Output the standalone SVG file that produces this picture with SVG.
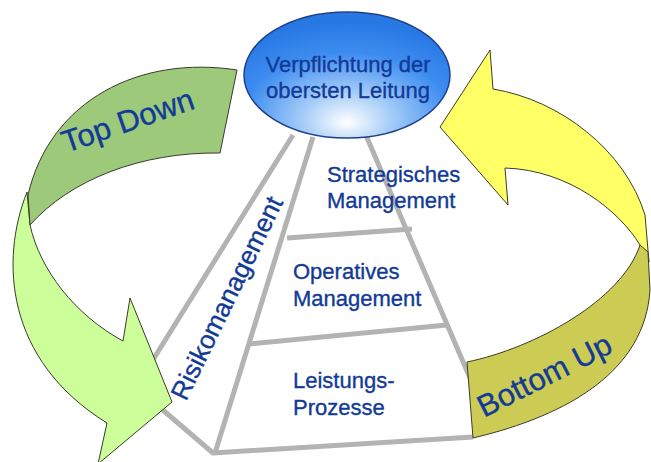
<svg xmlns="http://www.w3.org/2000/svg" width="651" height="462" viewBox="0 0 651 462">
<defs>
<radialGradient id="blueGrad" cx="0.5" cy="0.8" r="0.72" fx="0.5" fy="0.88">
<stop offset="0" stop-color="#ffffff"/>
<stop offset="0.3" stop-color="#a6cdf8"/>
<stop offset="0.7" stop-color="#3c8cf0"/>
<stop offset="1" stop-color="#2878e4"/>
</radialGradient>
<style>
.frame{stroke:#b3b3b3;stroke-width:5;fill:none;stroke-linejoin:round}
.arrow{stroke:#3a3a2a;stroke-width:1;stroke-linejoin:miter}
.lbl{font-family:"Liberation Sans",Arial,sans-serif;fill:#123a96;stroke:#123a96;stroke-width:0.35;font-size:22px}
.big{font-family:"Liberation Sans",Arial,sans-serif;fill:#123a96;stroke:#123a96;stroke-width:0.35;font-size:31px}
</style>
</defs>
<rect width="651" height="462" fill="#ffffff"/>
<g id="pyramid-frame">
<polyline class="frame" points="293,135 136,387 213,453 473,437"/>
<line class="frame" x1="313" y1="137" x2="215" y2="453"/>
<line class="frame" x1="365" y1="133" x2="470" y2="378"/>
<line class="frame" x1="287" y1="238" x2="412" y2="229"/>
<line class="frame" x1="249" y1="344" x2="447" y2="325"/>
</g>
<g id="connectors">
<g id="top-down-arrow">
<path class="arrow" fill="#ccff99" d="M27,192 C0,260 5,360 107,423 L98,464 L172,402 L130,298 L123,341 C75,315 40,270 30,225 Z"/>
<path class="arrow" fill="#9dc97b" d="M237,70 C140,55 50,100 28,195 L30,225 C70,180 140,152 220,153 Z"/>
</g>
<g id="bottom-up-arrow">
<path class="arrow" fill="#ffff66" d="M440,127 L490,50 L493,89 C560,100 625,150 645,215 L649,262 L640,245 C620,212 570,170 505,168 L508,205 Z"/>
<path class="arrow" fill="#cccc55" d="M640,245 C622,300 535,348 467,362 L473,438 C570,415 645,370 650,290 L648,252 Z"/>
</g>
</g>
<g id="node-leitung">
<ellipse cx="347" cy="75" rx="103" ry="63" fill="url(#blueGrad)" stroke="#1f3f8c" stroke-width="1.5"/>
<text class="lbl" x="348" y="72" text-anchor="middle">Verpflichtung der</text>
<text class="lbl" x="348" y="98" text-anchor="middle">obersten Leitung</text>
</g>
<g id="node-strategisch">
<text class="lbl" x="327" y="182">Strategisches</text>
<text class="lbl" x="327" y="208">Management</text>
</g>
<g id="node-operativ">
<text class="lbl" x="293" y="279">Operatives</text>
<text class="lbl" x="293" y="306">Management</text>
</g>
<g id="node-leistung">
<text class="lbl" x="293" y="388">Leistungs-</text>
<text class="lbl" x="293" y="415">Prozesse</text>
</g>
<g id="node-risiko">
<text class="lbl" x="0" y="0" style="font-size:26px" transform="translate(186,402) rotate(-64)">Risikomanagement</text>
</g>
<g id="label-topdown">
<text class="big" x="0" y="0" transform="translate(66,153) rotate(-19)">Top Down</text>
</g>
<g id="label-bottomup">
<text class="big" x="0" y="0" transform="translate(484,418) rotate(-27)">Bottom Up</text>
</g>
</svg>
